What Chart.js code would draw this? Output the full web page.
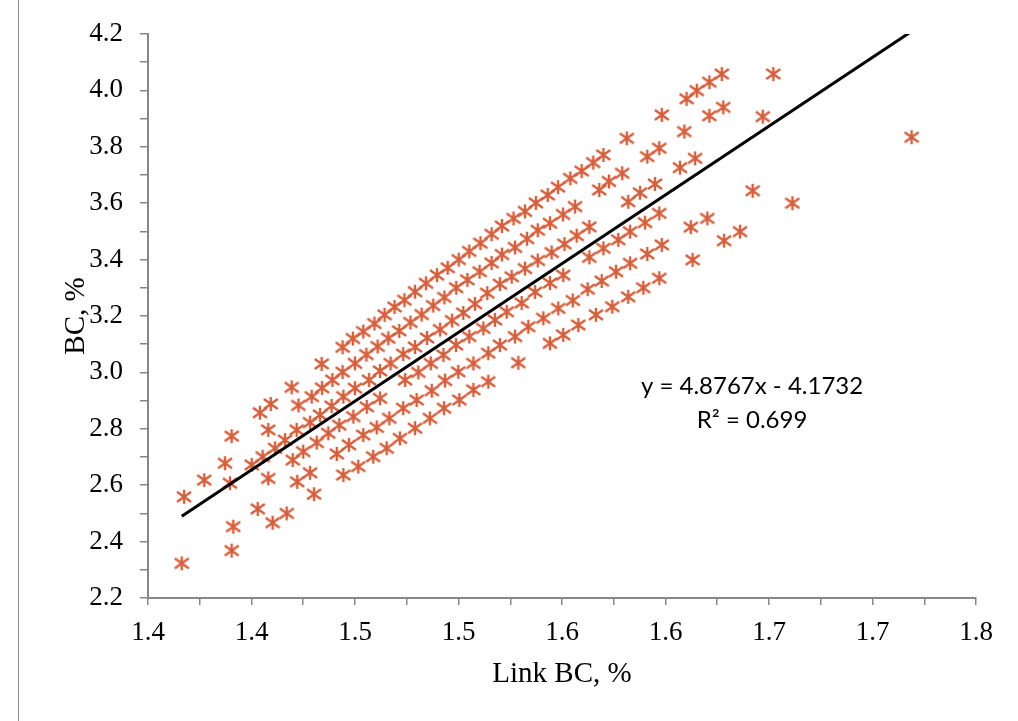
<!DOCTYPE html>
<html>
<head>
<meta charset="utf-8">
<script src="https://cdn.jsdelivr.net/npm/chart.js@4/dist/chart.umd.min.js"></script>
<style>
html,body{margin:0;padding:0;background:#fff;}
#wrap{position:relative;width:1018px;height:721px;overflow:hidden;}
#frame{position:absolute;left:18px;top:0;width:0;height:721px;border-left:1px solid #8c8c8c;}
canvas{position:absolute;left:0;top:0;}
</style>
</head>
<body>
<div id="wrap"><canvas id="c" width="1018" height="721"></canvas><div id="frame"></div></div>
<script>
// ---- data (Link BC %, BC %) ----
const xTickLabels = ['1.4','1.4','1.5','1.5','1.6','1.6','1.7','1.7','1.8'];
const yTickLabels = ['2.2','2.4','2.6','2.8','3.0','3.2','3.4','3.6','3.8','4.0','4.2'];

const band1X = [1.3904,1.4041,1.4093,1.4194,1.4339,1.4440,1.4490,1.4540,1.4594,1.4643,1.4691,1.4739,1.4790,1.4843,1.4896,1.4948,1.5001,1.5052,1.5106,1.5160,1.5210,1.5266,1.5321,1.5374,1.5431,1.5481,1.5540,1.5595,1.5651,1.5700,1.5813,1.5982,1.6102,1.6151,1.6212,1.6272];
const band1Y = [2.774,2.857,2.888,2.947,3.030,3.089,3.120,3.145,3.173,3.204,3.232,3.256,3.286,3.316,3.345,3.371,3.400,3.429,3.458,3.490,3.519,3.546,3.571,3.601,3.629,3.657,3.688,3.714,3.744,3.771,3.830,3.913,3.970,3.999,4.029,4.058];

const band2X = [1.3674,1.3772,1.3872,1.4081,1.4227,1.4291,1.4341,1.4391,1.4440,1.4500,1.4555,1.4609,1.4661,1.4714,1.4768,1.4822,1.4878,1.4932,1.4989,1.5043,1.5102,1.5160,1.5210,1.5273,1.5331,1.5383,1.5442,1.5505,1.5563,1.5680,1.5727,1.5791,1.5912,1.5970,1.6091,1.6212,1.6279];
const band2Y = [2.559,2.618,2.678,2.796,2.883,2.914,2.945,2.973,3.001,3.032,3.063,3.092,3.121,3.147,3.177,3.205,3.237,3.266,3.300,3.328,3.357,3.388,3.418,3.443,3.474,3.504,3.529,3.560,3.588,3.647,3.677,3.706,3.765,3.795,3.854,3.910,3.940];

const band3X = [1.3896,1.4001,1.4054,1.4114,1.4162,1.4218,1.4283,1.4331,1.4387,1.4444,1.4500,1.4568,1.4621,1.4672,1.4733,1.4790,1.4848,1.4911,1.4969,1.5023,1.5080,1.5139,1.5200,1.5257,1.5321,1.5383,1.5450,1.5512,1.5571,1.5632,1.5820,1.5877,1.5949,1.6070,1.6143];
const band3Y = [2.607,2.672,2.701,2.731,2.760,2.796,2.822,2.849,2.881,2.914,2.944,2.973,3.005,3.032,3.065,3.090,3.122,3.152,3.184,3.211,3.243,3.281,3.313,3.339,3.368,3.397,3.425,3.455,3.485,3.516,3.605,3.637,3.668,3.726,3.759];

const band4X = [1.4081,1.4199,1.4250,1.4315,1.4371,1.4424,1.4492,1.4557,1.4621,1.4742,1.4806,1.4866,1.4927,1.4988,1.5052,1.5120,1.5176,1.5233,1.5305,1.5370,1.5442,1.5506,1.5632,1.5700,1.5772,1.5829,1.5901,1.5970];
const band4Y = [2.624,2.689,2.719,2.751,2.784,2.813,2.843,2.878,2.908,2.973,3.000,3.032,3.062,3.097,3.127,3.156,3.186,3.215,3.246,3.285,3.317,3.345,3.408,3.440,3.470,3.499,3.531,3.564];

const band5X = [1.3663,1.3912,1.4030,1.4221,1.4283,1.4412,1.4471,1.4540,1.4605,1.4666,1.4733,1.4798,1.4871,1.4935,1.4999,1.5072,1.5144,1.5200,1.5273,1.5337,1.5410,1.5482,1.5552,1.5624,1.5692,1.5761,1.5829,1.5912,1.5982,1.6122,1.6202];
const band5Y = [2.323,2.453,2.516,2.612,2.644,2.711,2.743,2.778,2.805,2.837,2.873,2.902,2.935,2.971,3.002,3.032,3.068,3.097,3.127,3.162,3.192,3.227,3.255,3.295,3.324,3.357,3.387,3.420,3.452,3.515,3.546];

const band6X = [1.3904,1.4102,1.4170,1.4302,1.4444,1.4516,1.4588,1.4653,1.4717,1.4790,1.4862,1.4930,1.5004,1.5072,1.5144,1.5289,1.5442,1.5506,1.5579,1.5664,1.5743,1.5820,1.5893,1.5970,1.6131,1.6283];
const band6Y = [2.368,2.467,2.500,2.568,2.636,2.666,2.701,2.731,2.766,2.802,2.837,2.873,2.902,2.938,2.967,3.034,3.103,3.133,3.168,3.204,3.233,3.268,3.300,3.334,3.399,3.467];

const outlierX = [1.6521,1.6470,1.7189,1.6421,1.6613,1.6360];
const outlierY = [4.058,3.907,3.834,3.644,3.600,3.499];

const trendSlope = 4.8767;
const trendIntercept = -4.1732;
const rSquared = 0.699;

// ---- build ----
const groupsX = [band1X, band2X, band3X, band4X, band5X, band6X, outlierX];
const groupsY = [band1Y, band2Y, band3Y, band4Y, band5Y, band6Y, outlierY];
const points = [];
groupsX.forEach((gx, gi) => gx.forEach((v, i) => points.push({x: v, y: groupsY[gi][i]})));
const allX = points.map(p => p.x);
const xMin = Math.min(...allX), xMax = Math.max(...allX);
const trend = [xMin, xMax].map(v => ({x: v, y: trendSlope * v + trendIntercept}));

const MARK = '#D35F3D';
function starMarker(){
  const c = document.createElement('canvas');
  c.width = 16; c.height = 16;
  const g = c.getContext('2d');
  g.strokeStyle = MARK; g.lineWidth = 2.4;
  g.beginPath();
  g.moveTo(1, 3); g.lineTo(15, 13);
  g.moveTo(15, 3); g.lineTo(1, 13);
  g.moveTo(8, 1); g.lineTo(8, 15);
  g.stroke();
  return c;
}

const eqPlugin = {
  id: 'eqLabel',
  afterDatasetsDraw(chart, args, opts){
    const {ctx, scales} = chart;
    ctx.save();
    ctx.font = opts.font;
    ctx.fillStyle = '#000';
    ctx.textAlign = 'center';
    ctx.textBaseline = 'middle';
    opts.lines.forEach(l => ctx.fillText(l.text, scales.x.getPixelForValue(l.x), scales.y.getPixelForValue(l.y)));
    ctx.restore();
  }
};

const axisGray = '#878787';
const serif = "'Liberation Serif', 'Times New Roman', serif";

new Chart(document.getElementById('c'), {
  type: 'scatter',
  data: {
    datasets: [
      {
        type: 'line', label: 'Linear (BC)', data: trend, order: 0,
        borderColor: '#000', borderWidth: 3, pointRadius: 0, fill: false
      },
      {
        label: 'BC', data: points, order: 1,
        pointStyle: starMarker(), pointRadius: 7, showLine: false
      }
    ]
  },
  options: {
    responsive: false, animation: false, devicePixelRatio: 1,
    layout: {padding: {left: 0, right: 42, top: 34, bottom: 0}},
    plugins: {
      legend: {display: false}, tooltip: {enabled: false},
      eqLabel: {
        font: "24px Lato, 'Open Sans', sans-serif",
        lines: [
          {text: 'y = ' + trendSlope + 'x - ' + Math.abs(trendIntercept), x: 1.6418, y: 2.951},
          {text: 'R² = ' + rSquared, x: 1.6418, y: 2.831}
        ]
      }
    },
    scales: {
      x: {
        type: 'linear', min: 1.35, max: 1.75,
        afterFit: s => { s.height = 123; },
        ticks: {
          stepSize: 0.025, autoSkip: false, maxRotation: 0, padding: 12,
          color: '#000', font: {family: serif, size: 27},
          callback: (v, i) => (i % 2 === 0 ? xTickLabels[i / 2] : '')
        },
        grid: {drawOnChartArea: false, drawTicks: true, tickLength: 7, color: axisGray, lineWidth: 1.5},
        border: {display: true, color: axisGray, width: 2},
        title: {display: true, text: 'Link BC, %', color: '#000', font: {family: serif, size: 29}, padding: {top: 0, bottom: 29}}
      },
      y: {
        type: 'linear', min: 2.2, max: 4.2,
        afterFit: s => { s.width = 148; },
        ticks: {
          stepSize: 0.1, autoSkip: false, padding: 17,
          color: '#000', font: {family: serif, size: 27},
          callback: (v, i) => (i % 2 === 0 ? yTickLabels[i / 2] : '')
        },
        grid: {drawOnChartArea: false, drawTicks: true, tickLength: 8, color: axisGray, lineWidth: 1.5},
        border: {display: true, color: axisGray, width: 2},
        title: {display: true, text: 'BC, %', color: '#000', font: {family: serif, size: 29}, padding: {top: 59, bottom: 0}}
      }
    }
  },
  plugins: [eqPlugin]
});
</script>
</body>
</html>
